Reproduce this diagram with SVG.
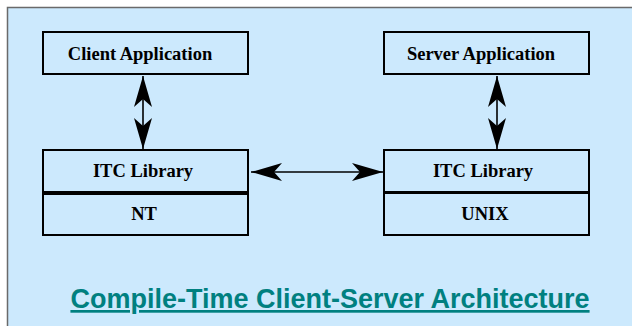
<svg xmlns="http://www.w3.org/2000/svg" width="632" height="326" viewBox="0 0 632 326">
<style>
.box{fill:none;stroke:#000;stroke-width:2}
.lbl{font-family:"Liberation Serif","Times New Roman",serif;font-weight:bold;font-size:18.5px;fill:#000;text-anchor:middle}
.con{stroke:#000;stroke-width:1.6;fill:none}
.title{font-family:"Liberation Sans",Arial,sans-serif;font-weight:bold;font-size:27px;fill:#008080;text-anchor:middle;text-decoration:underline}
</style>
<defs>
<marker id="ah" viewBox="0 0 31 18" refX="31" refY="9" markerWidth="31" markerHeight="18" markerUnits="userSpaceOnUse" orient="auto-start-reverse">
<path d="M31,9 L0,0 L8,9 L0,18 Z" fill="#000"/>
</marker>
</defs>
<rect x="0" y="0" width="632" height="326" fill="#fff"/>
<rect x="7" y="7" width="625" height="319" fill="#cce9fd"/>
<path d="M7.5,326 V7.5 H632" fill="none" stroke="#6a6a6a" stroke-width="1.5"/>
<g id="client-app">
<rect class="box" x="43" y="32" width="205" height="42"/>
<text class="lbl" x="140" y="60">Client Application</text>
</g>
<g id="server-app">
<rect class="box" x="384" y="32" width="205" height="42"/>
<text class="lbl" x="481" y="60">Server Application</text>
</g>
<g id="itc-left">
<rect class="box" x="43" y="150" width="205" height="42"/>
<text class="lbl" x="143" y="177">ITC Library</text>
</g>
<g id="nt">
<rect class="box" x="43" y="194" width="205" height="41"/>
<text class="lbl" x="144" y="220">NT</text>
</g>
<g id="itc-right">
<rect class="box" x="384" y="150" width="205" height="42"/>
<text class="lbl" x="483" y="177">ITC Library</text>
</g>
<g id="unix">
<rect class="box" x="384" y="193" width="205" height="42"/>
<line x1="384" y1="192.5" x2="589" y2="192.5" stroke="#000" stroke-width="3"/>
<text class="lbl" x="485" y="220">UNIX</text>
</g>
<g id="connectors">
<line class="con" x1="143" y1="76" x2="143" y2="149" marker-start="url(#ah)" marker-end="url(#ah)"/>
<line class="con" x1="497" y1="76" x2="497" y2="149" marker-start="url(#ah)" marker-end="url(#ah)"/>
<line class="con" x1="251" y1="172" x2="383" y2="172" marker-start="url(#ah)" marker-end="url(#ah)"/>
</g>
<text class="title" x="330" y="308">Compile-Time Client-Server Architecture</text>
</svg>
